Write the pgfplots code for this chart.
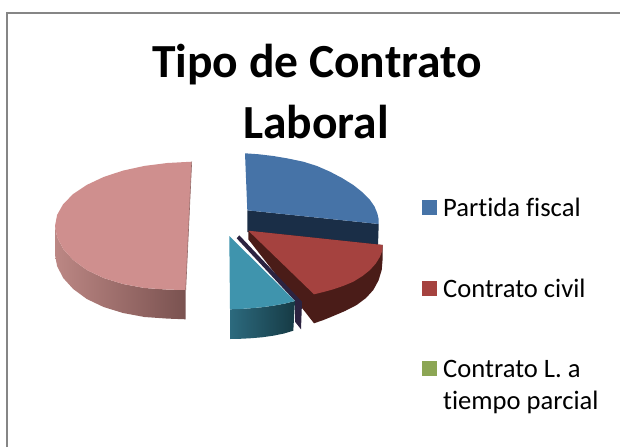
\documentclass[border=0pt]{standalone}
\usepackage{pgfplots}
\pgfplotsset{compat=1.18}
\usepackage{fontspec}
\setmainfont[Ligatures={NoCommon,NoRequired,NoContextual},Contextuals=NoAlternate]{Carlito}
\definecolor{bluetop}{HTML}{4673A7}
\definecolor{blueside}{HTML}{1A2E47}
\definecolor{redtop}{HTML}{A5423F}
\definecolor{redside}{HTML}{4A1C18}
\definecolor{tealtop}{HTML}{3F94AD}
\definecolor{tealL}{HTML}{2C6A7E}
\definecolor{tealR}{HTML}{163A44}
\definecolor{sliver}{HTML}{2C2340}
\definecolor{pinktop}{HTML}{CF8F8E}
\definecolor{pinkL}{HTML}{BC8784}
\definecolor{pinkR}{HTML}{7A5250}
\definecolor{greenkey}{HTML}{8CA654}
\definecolor{framec}{HTML}{868686}
\begin{document}
\begin{tikzpicture}[x=1pt,y=1pt]
\useasboundingbox (0,0) rectangle (620,447);
\begin{axis}[at={(0,0)},anchor=south west,scale only axis,width=620pt,height=447pt,
  xmin=0,xmax=620,ymin=0,ymax=447,y dir=reverse,hide axis,clip=false]
% frame
\addplot[framec,line width=2pt] coordinates {(6.5,447) (6.5,12.5) (620,12.5)};
% pink slice
\addplot[draw=none,left color=pinkL,right color=pinkR] coordinates {
(55,226)(57.1,237.1)(63.2,249)(73.2,260)(86.8,270)(103.6,278)(123,284)(144.5,288)(167.4,289.6)(185.7,290)
(185.7,319.3)(167.4,318.6)(144.5,317)(123,313)(103.6,307)(86.8,299)(73.2,289)(63.2,278)(57.1,266.1)(55,255)} -- cycle;
\addplot[draw=none,fill=pinktop] coordinates {
(191.7,161.7)(167.4,163)(144.5,165.9)(123,170.6)(103.6,177)(86.8,184.9)(73.2,194)(63.2,204.1)(57.1,214.9)(55,226)
(57.1,237.1)(63.2,249)(73.2,260)(86.8,270)(103.6,278)(123,284)(144.5,288)(167.4,289.6)(185.7,290)} -- cycle;
\addplot[color=pinkL!80!black,line width=0.6pt] coordinates {(191.7,161.7)(185.7,290)};
% blue slice
\addplot[draw=none,fill=blueside] coordinates {(247.3,210.3)(378.7,224)(378,246)(247.3,232)} -- cycle;
\addplot[draw=none,fill=bluetop] coordinates {
(245,153.3)(259,154.3)(273.3,156)(288,158.5)(303.3,161.7)(317,166)(330,171.7)(342,178)(353.3,185)(362.5,192.3)(370,200)(374.5,206.5)(377.3,213.3)(378.5,218.5)(378.7,224)(247.3,210.3)} -- cycle;
% red slice
\addplot[draw=none,fill=redside] coordinates {
(248.3,230.7)(248.3,239.3)(314,323.3)(323.5,320)(333.3,316)(345,311)(356.7,305)(366,298)(373.3,290)(378.5,280.5)(381.7,270)(382.7,258)(382.7,245)} -- cycle;
\addplot[draw=none,fill=redtop] coordinates {
(248.3,230.7)(382.7,245)(382.2,251)(380,256.7)(375.8,263.5)(370,270)(362.5,276)(353.3,281.7)(343.5,285.8)(333.3,289.3)(323.5,292)(314,294.3)} -- cycle;
% dark sliver and teal slice
\addplot[draw=none,fill=sliver] coordinates {(236.7,238.3)(239.3,235.3)(302,301.7)(301,329.3)(295,321.7)(295,301)} -- cycle;
\addplot[draw=none,left color=tealL,right color=tealR] coordinates {
(230,309.3)(240,309)(250,308.3)(262,307.2)(273.3,305.7)(285,303.5)(295,301)(293.3,330.7)(284,333.5)(273.3,335.7)(262,337.3)(250,338.3)(240,338.8)(230,339)} -- cycle;
\addplot[draw=none,fill=tealtop] coordinates {
(229.3,236)(295,301)(285,303.5)(273.3,305.7)(262,307.2)(250,308.3)(240,309)(230,309.3)} -- cycle;
% legend keys
\addplot[draw=none,fill=bluetop] coordinates {(422,200)(437,200)(437,215)(422,215)} -- cycle;
\addplot[draw=none,fill=redtop] coordinates {(422,281)(437,281)(437,296)(422,296)} -- cycle;
\addplot[draw=none,fill=greenkey] coordinates {(422,361)(437,361)(437,376)(422,376)} -- cycle;
% texts
\node[anchor=base,font=\fontsize{47.5}{47.5}\selectfont\bfseries] at (axis cs:317,77) {Tipo de Contrato};
\node[anchor=base,font=\fontsize{47.5}{47.5}\selectfont\bfseries] at (axis cs:316,138) {Laboral};
\foreach \t/\y in {Partida fiscal/216,Contrato civil/297,Contrato L. a/377,tiempo parcial/409}{
  \edef\temp{\noexpand\node[anchor=base west,font=\noexpand\fontsize{26.6}{26.6}\noexpand\selectfont,inner sep=0pt] at (axis cs:443,\y) {\t};}
  \temp
}
\end{axis}
\end{tikzpicture}
\end{document}
